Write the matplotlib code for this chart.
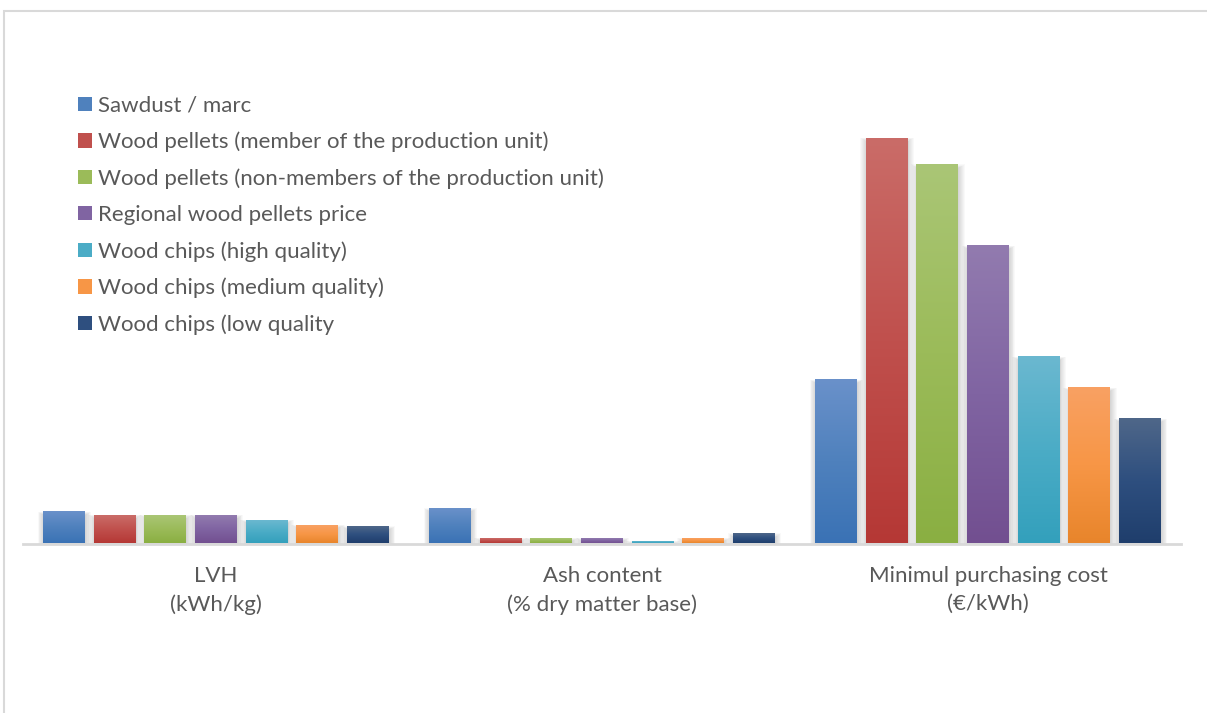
"""Grouped bar chart comparing wood fuels: heating value, ash content and purchasing cost."""

import matplotlib

matplotlib.use("Agg")
import matplotlib.pyplot as plt
import numpy as np
from matplotlib.colors import LinearSegmentedColormap
from matplotlib.patches import Patch, Rectangle

categories = ["LVH\n(kWh/kg)", "Ash content\n(% dry matter base)", "Minimul purchasing cost\n(€/kWh)"]

series_names = [
    "Sawdust / marc",
    "Wood pellets (member of the production unit)",
    "Wood pellets (non-members of the production unit)",
    "Regional wood pellets price",
    "Wood chips (high quality)",
    "Wood chips (medium quality)",
    "Wood chips (low quality",
]

sawdust = [5.0, 5.6, 26.3]
pellets_member = [4.5, 0.8, 65.3]
pellets_nonmember = [4.5, 0.8, 61.0]
pellets_regional = [4.5, 0.8, 47.9]
chips_high = [3.7, 0.3, 30.0]
chips_medium = [2.9, 0.8, 25.0]
chips_low = [2.7, 1.5, 20.0]

series_values = [
    sawdust,
    pellets_member,
    pellets_nonmember,
    pellets_regional,
    chips_high,
    chips_medium,
    chips_low,
]

# (top, middle, bottom) gradient stops for each series
gradients = [
    ("#6A91CA", "#4F81BD", "#3A72B5"),
    ("#CA6C68", "#C0504D", "#B53835"),
    ("#AAC676", "#9BBB59", "#8AAF42"),
    ("#927BAF", "#8064A2", "#724F90"),
    ("#6BB8D0", "#4BACC6", "#33A0BC"),
    ("#F9A163", "#F79646", "#E8852B"),
    ("#4F6789", "#2E4F7F", "#1F3E6C"),
]

W, H = 1207, 713
fig = plt.figure(figsize=(W / 100, H / 100), dpi=100)
fig.patch.set_facecolor("white")

ax_left, ax_right = 23, 1181
ax_top, ax_bottom = 40, 543.5
ax = fig.add_axes(
    [ax_left / W, 1 - ax_bottom / H, (ax_right - ax_left) / W, (ax_bottom - ax_top) / H]
)

ymax = 81.2
xmin, xmax = -0.5, 2.5
px_x = (xmax - xmin) / (ax_right - ax_left)
px_y = ymax / (ax_bottom - ax_top)

n = len(series_values)
step = 0.1313
width = 0.1088
x = np.arange(len(categories))
grad = np.linspace(0, 1, 256).reshape(-1, 1)

for i, (vals, stops) in enumerate(zip(series_values, gradients)):
    top, mid, bot = stops
    cmap = LinearSegmentedColormap.from_list(f"g{i}", [bot, mid, top])
    xs = x + (i - (n - 1) / 2) * step
    for xc, v in zip(xs, vals):
        x0, x1 = xc - width / 2, xc + width / 2
        # soft drop shadow, heavier below the bar
        for k in range(7, 0, -1):
            pad = k * 0.9
            ax.add_patch(
                Rectangle(
                    (x0 - pad * px_x + 1.0 * px_x, -3.0 * px_y - pad * px_y),
                    width + 2 * pad * px_x - 1.0 * px_x,
                    v + 1.6 * pad * px_y,
                    facecolor="#000000",
                    alpha=0.025,
                    lw=0,
                    zorder=1,
                )
            )
        ax.imshow(
            grad,
            extent=(x0, x1, 0, v),
            origin="lower",
            aspect="auto",
            cmap=cmap,
            zorder=3,
            interpolation="bicubic",
        )

ax.set_xlim(xmin, xmax)
ax.set_ylim(0, ymax)
ax.set_facecolor("none")

for side in ("top", "right", "left"):
    ax.spines[side].set_visible(False)
ax.spines["bottom"].set_color("#D9D9D9")
ax.spines["bottom"].set_linewidth(2.0)
ax.spines["bottom"].set_zorder(4)

font = "Lato"
ax.set_yticks([])
ax.set_xticks(x)
ax.set_xticklabels(categories, fontsize=16, color="#595959", family=font, linespacing=1.5)
ax.tick_params(axis="x", length=0, pad=16)

handles = [Patch(facecolor=g[1], edgecolor="none") for g in gradients]
leg = fig.legend(
    handles,
    series_names,
    loc="upper left",
    bbox_to_anchor=(69 / W, 1 - 87 / H),
    frameon=False,
    prop={"family": font, "size": 16},
    handlelength=0.62,
    handleheight=0.62,
    handletextpad=0.3,
    labelspacing=0.72,
    borderaxespad=0,
)
for t in leg.get_texts():
    t.set_color("#595959")

# chart border
fig.add_artist(
    Rectangle(
        (3.5 / W, -0.05),
        1.1,
        1.05 - 11.5 / H,
        transform=fig.transFigure,
        facecolor="none",
        edgecolor="#D9D9D9",
        lw=1.5,
    )
)

fig.savefig("out.png", dpi=100)
